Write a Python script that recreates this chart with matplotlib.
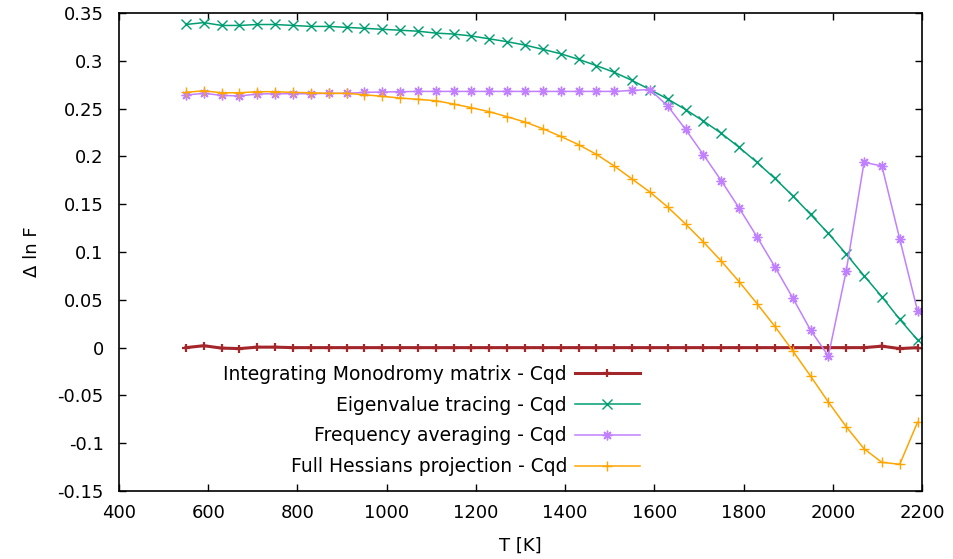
import matplotlib
matplotlib.use("Agg")
import matplotlib.pyplot as plt
from matplotlib.ticker import MultipleLocator, FuncFormatter
import numpy as np

plt.rcParams['font.family'] = ['DejaVu Sans']
plt.rcParams['axes.unicode_minus'] = False

# temperatures, 550 K .. 2190 K in 40 K steps
T = [550, 590, 630, 670, 710, 750, 790, 830, 870, 910, 950, 990, 1030, 1070,
     1110, 1150, 1190, 1230, 1270, 1310, 1350, 1390, 1430, 1470, 1510, 1550,
     1590, 1630, 1670, 1710, 1750, 1790, 1830, 1870, 1910, 1950, 1990, 2030,
     2070, 2110, 2150, 2190]

monodromy = [0.0, 0.002, -0.0005, -0.001, 0.0005, 0.0005, 0.0, 0.0, 0.0, 0.0,
             0.0, 0.0, 0.0, 0.0, 0.0, 0.0, 0.0, 0.0, 0.0, 0.0, 0.0, 0.0, 0.0,
             0.0, 0.0, 0.0, 0.0, 0.0, 0.0, 0.0, 0.0, 0.0, 0.0, 0.0, 0.0, 0.0,
             0.0, 0.0, 0.0, 0.0015, -0.001, 0.0]

eigen = [0.338, 0.340, 0.337, 0.337, 0.338, 0.338, 0.337, 0.336, 0.336, 0.335,
         0.334, 0.333, 0.332, 0.331, 0.329, 0.328, 0.326, 0.323, 0.320, 0.3165,
         0.312, 0.3074, 0.3016, 0.295, 0.288, 0.2795, 0.270, 0.260, 0.249,
         0.237, 0.2242, 0.2095, 0.1938, 0.177, 0.1589, 0.1394, 0.1195, 0.0979,
         0.0752, 0.0532, 0.0296, 0.008]

freq_avg = [0.2642, 0.266, 0.2639, 0.2632, 0.2653, 0.2656, 0.2656, 0.2656,
            0.266, 0.266, 0.267, 0.2674, 0.2677, 0.268, 0.268, 0.268, 0.268,
            0.268, 0.268, 0.268, 0.268, 0.268, 0.268, 0.268, 0.268, 0.2690,
            0.270, 0.2527, 0.2283, 0.2018, 0.1746, 0.146, 0.116, 0.0846,
            0.0522, 0.0184, -0.0088, 0.0801, 0.1938, 0.190, 0.1136, 0.0383]

hessian = [0.267, 0.2687, 0.2666, 0.2666, 0.2677, 0.2677, 0.267, 0.2666,
           0.266, 0.266, 0.2645, 0.2629, 0.2611, 0.2597, 0.2583, 0.2548, 0.251,
           0.2468, 0.2415, 0.236, 0.229, 0.221, 0.2123, 0.2022, 0.190, 0.1764,
           0.1628, 0.147, 0.1293, 0.1105, 0.0905, 0.069, 0.0461, 0.0223,
           -0.0032, -0.0297, -0.0569, -0.0827, -0.1058, -0.120, -0.122, -0.078]

fs = 13

fig = plt.figure(figsize=(9.54, 5.59), dpi=100)
ax = fig.add_axes([0.1247, 0.1216, 0.8418, 0.8551])

ax.plot(T, monodromy, color='#a3262a', lw=2.2, marker='+', ms=5.5, mew=1.6,
        label='Integrating Monodromy matrix - Cqd')
ax.plot(T, eigen, color='#009e73', lw=1.1, marker='x', ms=6.5, mew=1.0,
        label='Eigenvalue tracing - Cqd')
ax.plot(T, freq_avg, color='#c080ff', lw=1.1, marker=(8, 2, 0), ms=7, mew=1.0,
        label='Frequency averaging - Cqd')
ax.plot(T, hessian, color='#ffa500', lw=1.1, marker='+', ms=7, mew=1.0,
        label='Full Hessians projection - Cqd')

ax.set_xlim(400, 2200)
ax.set_ylim(-0.15, 0.35)
ax.xaxis.set_major_locator(MultipleLocator(200))
ax.yaxis.set_major_locator(MultipleLocator(0.05))
ax.yaxis.set_major_formatter(FuncFormatter(lambda v, p: '%g' % round(v, 2)))
ax.tick_params(direction='in', length=5, width=1, top=True, right=True,
               labelsize=fs, colors='black')
ax.tick_params(axis='x', pad=9)
ax.tick_params(axis='y', pad=11)
for s in ax.spines.values():
    s.set_linewidth(1.2)

ax.set_xlabel('T [K]', fontsize=fs, labelpad=11)
ax.set_ylabel('Δ ln F', fontsize=fs, labelpad=12)

ax.legend(loc='upper right', bbox_to_anchor=(0.649, 0.264), frameon=False,
          markerfirst=False, fontsize=13.5, handlelength=3.5,
          handletextpad=0.4, labelspacing=0.63, borderpad=0,
          borderaxespad=0)

fig.savefig('out.png', dpi=100)
